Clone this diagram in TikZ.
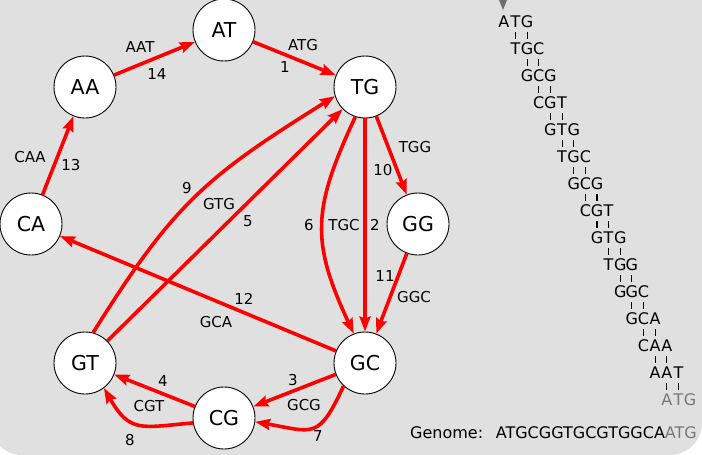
\documentclass[tikz,border=0pt]{standalone}
\usepackage{fontspec}
\setmainfont{DejaVu Sans}
\usetikzlibrary{arrows.meta}
\definecolor{bgc}{RGB}{224,224,224}
\definecolor{arr}{RGB}{255,0,0}
\definecolor{seqgray}{RGB}{120,120,120}
\definecolor{trigray}{RGB}{110,110,110}
\def\kmer#1#2#3{\makebox[11.64pt]{#1}\makebox[11.64pt]{#2}\makebox[11.64pt]{#3}}
\begin{document}
\begin{tikzpicture}[x=1pt,y=1pt,
  kn/.style={circle,draw=black,line width=0.9pt,fill=white,minimum size=62pt,inner sep=0pt,font=\fontsize{20.5}{24}\selectfont},
  lab/.style={inner sep=0pt,font=\fontsize{15}{18}\selectfont},
  ed/.style={draw=arr,line width=3.6pt,-{Stealth[length=15pt,width=11pt,inset=2pt]}},
  seq/.style={inner sep=0pt,font=\fontsize{16}{19}\selectfont},
  tick/.style={line width=1.1pt}]
\useasboundingbox (0,0) rectangle (702,-455);
\begin{scope}
\clip (0,0) rectangle (702,-455);
\fill[bgc,rounded corners=32pt] (-10,60) rectangle (702,-455);
\end{scope}
% nodes
\node[kn] (AT) at (224,-30) {AT};
\node[kn] (AA) at (85,-87) {AA};
\node[kn] (TG) at (365,-87) {TG};
\node[kn] (CA) at (31,-224) {CA};
\node[kn] (GG) at (418,-224) {GG};
\node[kn] (GT) at (85,-363) {GT};
\node[kn] (GC) at (365,-363) {GC};
\node[kn] (CG) at (224,-418) {CG};
% edges
\draw[ed] (AT) -- (TG);
\draw[ed] (AA) -- (AT);
\draw[ed] (CA) -- (AA);
\draw[ed] (GC) -- (CA);
\draw[ed] (GT.75) to[out=58,in=212,looseness=1.15] (TG.197);
\draw[ed] (GT) -- (TG);
\draw[ed] (TG.252) to[out=245,in=115,looseness=1.2] (GC.111);
\draw[ed] (TG) -- (GC);
\draw[ed] (TG) -- (GG);
\draw[ed] (GG) -- (GC);
\draw[ed] (GC) -- (CG);
\draw[ed] (GC.227) to[out=245,in=-10,looseness=1.6] (CG.-7);
\draw[ed] (CG) -- (GT);
\draw[ed] (CG.189) to[out=185,in=-60,looseness=1.4] (GT.-53);
% labels
\node[lab] (l1a) at (303,-45) {ATG};
\node[lab] (l1b) at (285,-67) {1};
\node[lab] (l14a) at (140,-47) {AAT};
\node[lab] (l14b) at (157,-74) {14};
\node[lab] (l13a) at (30,-157) {CAA};
\node[lab] (l13b) at (71,-165) {13};
\node[lab] (l12b) at (244,-299) {12};
\node[lab] (l12a) at (216,-322) {GCA};
\node[lab] (l9b) at (187,-188) {9};
\node[lab] (l9a) at (219,-204) {GTG};
\node[lab] (l5b) at (248,-221) {5};
\node[lab] (l6b) at (309,-225) {6};
\node[lab] (l2a) at (344,-225) {TGC};
\node[lab] (l2b) at (375,-225) {2};
\node[lab] (l10a) at (415,-147) {TGG};
\node[lab] (l10b) at (383,-170) {10};
\node[lab] (l11b) at (385,-276) {11};
\node[lab] (l11a) at (414,-297) {GGC};
\node[lab] (l3b) at (293,-380) {3};
\node[lab] (l3a) at (304,-405) {GCG};
\node[lab] (l7b) at (318,-436) {7};
\node[lab] (l4b) at (163,-381) {4};
\node[lab] (l4a) at (149,-406) {CGT};
\node[lab] (l8b) at (130,-440) {8};
% sequence
\fill[trigray] (499,0) -- (507,0) -- (503,-10) -- cycle;
\foreach \s [count=\i from 0] in {ATG,TGC,GCG,CGT,GTG,TGC,GCG,CGT,GTG,TGG,GGC,GCA,CAA,AAT} {
  \node[seq] (k\i) at ({515.5+11.64*\i},{-22-27*\i}) {\expandafter\kmer\s};
  \draw[tick] ({515.5+11.64*\i},{-32-27*\i}) -- ++(0,-6.5);
  \draw[tick] ({527.14+11.64*\i},{-32-27*\i}) -- ++(0,-6.5);
}
\node[seq,text=seqgray] (k14) at ({515.5+11.64*14},{-22-27*14}) {\kmer ATG};
\node[seq,anchor=base west] (gl) at (410,-438) {Genome:};
\node[seq,anchor=base east] (gs) at (697,-438) {ATGCGGTGCGTGGCA\textcolor{seqgray}{ATG}};
\end{tikzpicture}
\end{document}
